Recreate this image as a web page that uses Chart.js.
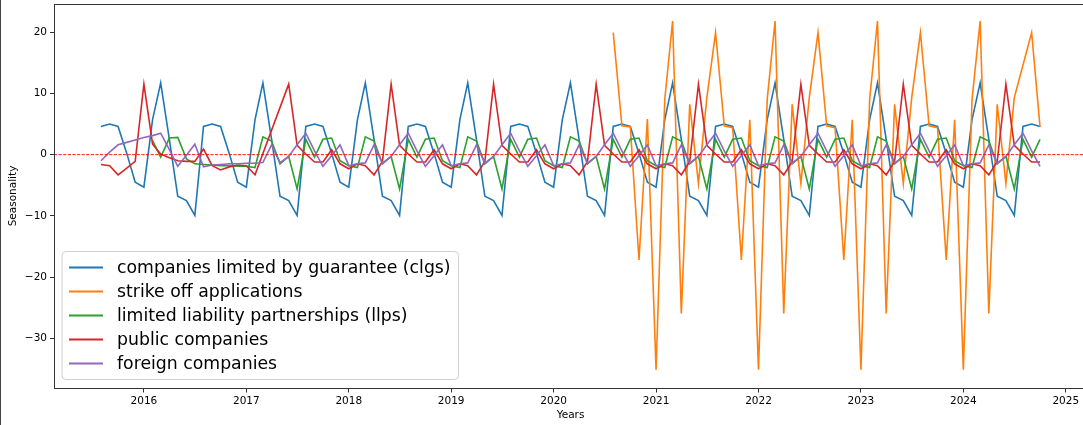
<!DOCTYPE html>
<html>
<head>
<meta charset="utf-8">
<script src="https://cdn.jsdelivr.net/npm/chart.js@4.4.0/dist/chart.umd.min.js"></script>
<style>
html,body{margin:0;padding:0;background:#fff;overflow:hidden;}
#wrap{position:relative;width:1090px;height:425px;}
#edge{position:absolute;left:0;top:0;width:1px;height:425px;background:#444;}
</style>
</head>
<body>
<div id="wrap"><canvas id="c"></canvas><div id="edge"></div></div>
<script>
// ---- data (monthly, Aug 2015 .. Oct 2024) ----
const firstMonth = [2015, 8];
const lastMonth = [2024, 10];
const xTicks = [2016, 2017, 2018, 2019, 2020, 2021, 2022, 2023, 2024, 2025];
const yTicks = [-30, -20, -10, 0, 10, 20];
const seriesNames = [
  'companies limited by guarantee (clgs)',
  'strike off applications',
  'limited liability partnerships (llps)',
  'public companies',
  'foreign companies'
];
const seriesColors = ['#1f77b4', '#ff7f0e', '#2ca02c', '#d62728', '#9467bd'];

const clgs = [
  4.6, 5.0, 4.6, 0.2, -4.5,
  -5.3, 5.7, 11.7, 2.5, -6.8, -7.5, -9.9, 4.6, 5.0, 4.6, 0.2, -4.5,
  -5.3, 5.7, 11.7, 2.5, -6.8, -7.5, -9.9, 4.6, 5.0, 4.6, 0.2, -4.5,
  -5.3, 5.7, 11.7, 2.5, -6.8, -7.5, -9.9, 4.6, 5.0, 4.6, 0.2, -4.5,
  -5.3, 5.7, 11.7, 2.5, -6.8, -7.5, -9.9, 4.6, 5.0, 4.6, 0.2, -4.5,
  -5.3, 5.7, 11.7, 2.5, -6.8, -7.5, -9.9, 4.6, 5.0, 4.6, 0.2, -4.5,
  -5.3, 5.7, 11.7, 2.5, -6.8, -7.5, -9.9, 4.6, 5.0, 4.6, 0.2, -4.5,
  -5.3, 5.7, 11.7, 2.5, -6.8, -7.5, -9.9, 4.6, 5.0, 4.6, 0.2, -4.5,
  -5.3, 5.7, 11.7, 2.5, -6.8, -7.5, -9.9, 4.6, 5.0, 4.6, 0.2, -4.5,
  -5.3, 5.7, 11.7, 2.5, -6.8, -7.5, -9.9, 4.6, 5.0, 4.6
];

const strikeOff = [
  null, null, null, null, null,
  null, null, null, null, null, null, null, null, null, null, null, null,
  null, null, null, null, null, null, null, null, null, null, null, null,
  null, null, null, null, null, null, null, null, null, null, null, null,
  null, null, null, null, null, null, null, null, null, null, null, null,
  null, null, null, null, null, null, null, 19.9, 4.7, 4.5, -17.2, 5.8,
  -35.1, 9.0, 21.8, -25.9, 8.2, -4.7, 9.3, 19.9, 4.7, 4.4, -17.2, 5.7,
  -35.1, 9.0, 21.8, -25.9, 8.2, -4.7, 9.3, 19.9, 4.7, 4.4, -17.2, 5.7,
  -35.1, 9.0, 21.8, -25.9, 8.2, -4.7, 9.3, 19.9, 4.7, 4.4, -17.2, 5.7,
  -35.1, 9.0, 21.8, -25.9, 8.2, -4.7, 9.3, null, 19.9, 4.5
];

const llps = [
  null, null, null, null, null,
  null, 2.3, -0.4, 2.7, 2.8, -0.7, -1.5, -1.6, -1.7, -1.8, -1.8, -1.9,
  -1.9, -2.1, 2.9, 2.2, -1.5, -0.3, -5.6, 2.5, -0.4, 2.5, 2.7, -1.0,
  -1.8, -2.1, 2.9, 2.2, -1.5, -0.3, -5.6, 2.5, -0.4, 2.5, 2.7, -1.0,
  -1.8, -2.1, 2.9, 2.2, -1.5, -0.3, -5.6, 2.5, -0.4, 2.5, 2.7, -1.0,
  -1.8, -2.1, 2.9, 2.2, -1.5, -0.3, -5.6, 2.5, -0.4, 2.5, 2.7, -1.0,
  -1.8, -2.1, 2.9, 2.2, -1.5, -0.3, -5.6, 2.5, -0.4, 2.5, 2.7, -1.0,
  -1.8, -2.1, 2.9, 2.2, -1.5, -0.3, -5.6, 2.5, -0.4, 2.5, 2.7, -1.0,
  -1.8, -2.1, 2.9, 2.2, -1.5, -0.3, -5.6, 2.5, -0.4, 2.5, 2.7, -1.0,
  -1.8, -2.1, 2.9, 2.2, -1.5, -0.3, -5.6, 2.5, -0.4, 2.5
];

const publicCos = [
  -1.6, -1.8, -3.3, -2.2, -1.1,
  11.5, 1.7, 0.1, -0.5, -1.0, -1.1, -1.1, 0.9, -1.8, -2.5, -2.0, -1.7,
  -1.8, -3.3, null, null, null, 11.5, 1.5, 0.1, -1.2, -1.2, 0.8, -1.5,
  -2.3, -1.5, -1.8, -3.3, -1.1, 11.5, 1.5, 0.1, -1.2, -1.2, 0.8, -1.5,
  -2.3, -1.5, -1.8, -3.3, -1.1, 11.5, 1.5, 0.1, -1.2, -1.2, 0.8, -1.5,
  -2.3, -1.5, -1.8, -3.3, -1.1, 11.5, 1.5, 0.1, -1.2, -1.2, 0.8, -1.5,
  -2.3, -1.5, -1.8, -3.3, -1.1, 11.5, 1.5, 0.1, -1.2, -1.2, 0.8, -1.5,
  -2.3, -1.5, -1.8, -3.3, -1.1, 11.5, 1.5, 0.1, -1.2, -1.2, 0.8, -1.5,
  -2.3, -1.5, -1.8, -3.3, -1.1, 11.5, 1.5, 0.1, -1.2, -1.2, 0.8, -1.5,
  -2.3, -1.5, -1.8, -3.3, -1.1, 11.5, 1.5, 0.1, -1.2, -1.2
];

const foreignCos = [
  -1.0, 0.4, 1.6, 2.0, 2.4,
  2.8, 3.1, 3.5, 0.8, -1.9, -0.1, 1.7, -2.0, -1.7, -1.6, -1.5, -1.5,
  -1.4, -1.4, -1.3, 1.6, -1.3, -0.3, 1.6, 3.5, 0.6, -1.9, -0.2, 1.6,
  -1.8, -1.5, -1.35, 1.6, -1.4, -0.3, 1.6, 3.5, 0.6, -1.9, -0.2, 1.6,
  -1.8, -1.5, -1.35, 1.6, -1.4, -0.3, 1.6, 3.5, 0.6, -1.9, -0.2, 1.6,
  -1.8, -1.5, -1.35, 1.6, -1.4, -0.3, 1.6, 3.5, 0.6, -1.9, -0.2, 1.6,
  -1.8, -1.5, -1.35, 1.6, -1.4, -0.3, 1.6, 3.5, 0.6, -1.9, -0.2, 1.6,
  -1.8, -1.5, -1.35, 1.6, -1.4, -0.3, 1.6, 3.5, 0.6, -1.9, -0.2, 1.6,
  -1.8, -1.5, -1.35, 1.6, -1.4, -0.3, 1.6, 3.5, 0.6, -1.9, -0.2, 1.6,
  -1.8, -1.5, -1.35, 1.6, -1.4, -0.3, 1.6, 3.5, 0.6, -1.9
];

// ---- month positions as decimal years ----
function decYear(y, m) {
  const a = Date.UTC(y, 0, 1), b = Date.UTC(y + 1, 0, 1), d = Date.UTC(y, m - 1, 1);
  return y + (d - a) / (b - a);
}
const monthX = [];
for (let y = firstMonth[0], m = firstMonth[1]; y < lastMonth[0] || (y === lastMonth[0] && m <= lastMonth[1]); ) {
  monthX.push(decYear(y, m));
  m++; if (m > 12) { m = 1; y++; }
}
const allSeries = [clgs, strikeOff, llps, publicCos, foreignCos];
const xMin = decYear(2015, 8), xMax = decYear(2024, 10);
const xPad = (xMax - xMin) * 0.05;
const yLo = -35.3, yHi = 21.8, yPad = (yHi - yLo) * 0.05;

const FONT = '"DejaVu Sans", "Liberation Sans", sans-serif';

const decorations = {
  id: 'decorations',
  afterDatasetsDraw(chart) {
    const {ctx, chartArea: ca, scales} = chart;
    const y0 = scales.y.getPixelForValue(0);
    ctx.save();
    ctx.strokeStyle = '#ff0000';
    ctx.lineWidth = 0.9;
    ctx.setLineDash([3.2, 1.4]);
    ctx.beginPath();
    ctx.moveTo(ca.left, y0);
    ctx.lineTo(ca.right, y0);
    ctx.stroke();
    ctx.restore();
  },
  afterDraw(chart) {
    const {ctx, chartArea: ca} = chart;
    ctx.save();
    // spines
    ctx.strokeStyle = '#333';
    ctx.lineWidth = 1;
    ctx.strokeRect(Math.round(ca.left) + 0.5, Math.round(ca.top) + 0.5,
                   Math.round(ca.right - ca.left), Math.round(ca.bottom - ca.top) - 1);
    // legend
    const fs = 17.3;
    ctx.font = fs + 'px ' + FONT;
    let maxW = 0;
    seriesNames.forEach(n => { maxW = Math.max(maxW, ctx.measureText(n).width); });
    const left = ca.left + 8, bottom = ca.bottom - 9;
    const rowGap = 24, padTop = 16;
    const h = padTop * 2 + rowGap * (seriesNames.length - 1);
    const top = bottom - h;
    const textX = left + 55;
    const right = textX + maxW + 8;
    const r = 4;
    ctx.beginPath();
    ctx.moveTo(left + r, top);
    ctx.lineTo(right - r, top);
    ctx.quadraticCurveTo(right, top, right, top + r);
    ctx.lineTo(right, bottom - r);
    ctx.quadraticCurveTo(right, bottom, right - r, bottom);
    ctx.lineTo(left + r, bottom);
    ctx.quadraticCurveTo(left, bottom, left, bottom - r);
    ctx.lineTo(left, top + r);
    ctx.quadraticCurveTo(left, top, left + r, top);
    ctx.closePath();
    ctx.fillStyle = 'rgba(255,255,255,0.8)';
    ctx.fill();
    ctx.strokeStyle = '#d0d0d0';
    ctx.lineWidth = 1;
    ctx.stroke();
    ctx.textBaseline = 'middle';
    ctx.textAlign = 'left';
    seriesNames.forEach((n, i) => {
      const cy = top + padTop + i * rowGap;
      ctx.strokeStyle = seriesColors[i];
      ctx.lineWidth = 2;
      ctx.beginPath();
      ctx.moveTo(left + 7, cy);
      ctx.lineTo(left + 41, cy);
      ctx.stroke();
      ctx.fillStyle = '#000';
      ctx.fillText(n, textX, cy + 1);
    });
    ctx.restore();
  }
};

const datasets = allSeries.map((arr, i) => ({
  label: seriesNames[i],
  data: arr.map((v, k) => ({x: monthX[k], y: v})),
  borderColor: seriesColors[i],
  backgroundColor: seriesColors[i],
  borderWidth: 1.6,
  pointRadius: 0,
  pointHoverRadius: 0,
  tension: 0,
  spanGaps: true,
  fill: false,
  order: allSeries.length - 1 - i
}));

const tickFont = {family: FONT, size: 10.5};

new Chart(document.getElementById('c'), {
  type: 'line',
  data: {datasets},
  plugins: [decorations],
  options: {
    responsive: true,
    maintainAspectRatio: false,
    animation: false,
    events: [],
    layout: {padding: {top: 3.5, right: 3, left: 0, bottom: 0}},
    plugins: {legend: {display: false}, tooltip: {enabled: false}, title: {display: false}},
    scales: {
      x: {
        type: 'linear',
        min: xMin - xPad,
        max: xMax + xPad,
        afterBuildTicks: s => { s.ticks = xTicks.map(v => ({value: v})); },
        afterFit: s => { s.height = 36.5; s.paddingLeft = 0; s.paddingRight = 0; s.paddingTop = 0; s.paddingBottom = 0; },
        ticks: {
          font: tickFont, color: '#000', padding: 2, maxRotation: 0, autoSkip: false,
          callback: v => String(v)
        },
        grid: {display: true, drawOnChartArea: false, drawTicks: true, tickLength: 4, color: '#333', lineWidth: 1},
        border: {display: false},
        title: {display: true, text: 'Years', font: tickFont, color: '#000', padding: {top: 0, bottom: 3}}
      },
      y: {
        type: 'linear',
        min: yLo - yPad,
        max: yHi + yPad,
        afterBuildTicks: s => { s.ticks = yTicks.map(v => ({value: v})); },
        afterFit: s => { s.width = 54; s.paddingLeft = 0; s.paddingRight = 0; s.paddingTop = 0; s.paddingBottom = 0; },
        ticks: {
          font: tickFont, color: '#000', padding: 3,
          callback: v => String(v).replace('-', '\u2212')
        },
        grid: {display: true, drawOnChartArea: false, drawTicks: true, tickLength: 4, color: '#333', lineWidth: 1},
        border: {display: false},
        title: {display: true, text: 'Seasonality', font: tickFont, color: '#000', padding: {top: 7, bottom: 0}}
      }
    }
  }
});
</script>
</body>
</html>
